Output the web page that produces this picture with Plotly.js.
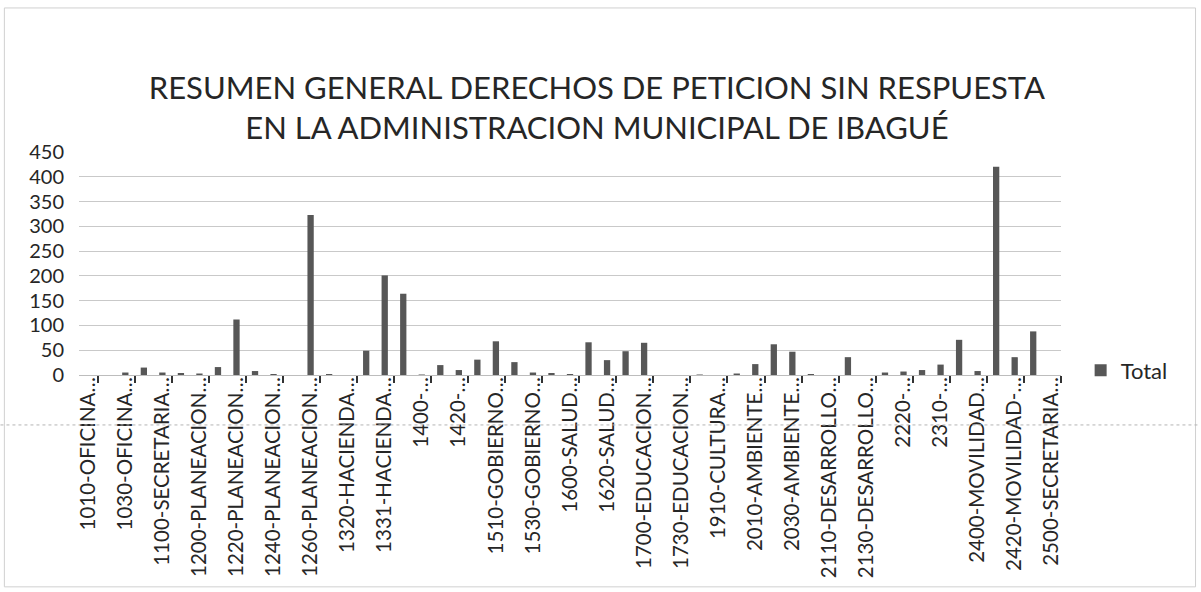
<!DOCTYPE html>
<html>
<head>
<meta charset="utf-8">
<script src="https://cdn.plot.ly/plotly-3.0.1.min.js"></script>
<style>html,body{margin:0;padding:0;background:#fff;}#chart{width:1201px;height:592px;}</style>
</head>
<body>
<div id="chart"></div>
<script>
// Tick labels (shown on every other category, as in the reference)
const tickLabels = [
  "1010-OFICINA…", "1030-OFICINA…", "1100-SECRETARIA…", "1200-PLANEACION…",
  "1220-PLANEACION…", "1240-PLANEACION…", "1260-PLANEACION…", "1320-HACIENDA…",
  "1331-HACIENDA…", "1400-…", "1420-…", "1510-GOBIERNO…", "1530-GOBIERNO…",
  "1600-SALUD…", "1620-SALUD…", "1700-EDUCACION…", "1730-EDUCACION…",
  "1910-CULTURA…", "2010-AMBIENTE…", "2030-AMBIENTE…", "2110-DESARROLLO…",
  "2130-DESARROLLO…", "2220-…", "2310-…", "2400-MOVILIDAD…", "2420-MOVILIDAD-…",
  "2500-SECRETARIA…"
];
// Series "Total", one value per category (53 categories)
const totals = [
  0, 0, 5, 15, 5, 4, 3, 16, 112, 8,
  2, 0, 323, 2, 0, 49, 201, 164, 1, 20,
  10, 31, 68, 26, 5, 4, 2, 66, 30, 48,
  65, 0, 0, 1, 0, 3, 22, 62, 47, 2,
  0, 36, 0, 5, 7, 10, 21, 71, 8, 420,
  36, 88, 0
];
const seriesName = "Total";
const titleText = "RESUMEN GENERAL DERECHOS DE PETICION SIN RESPUESTA<br>EN LA ADMINISTRACION MUNICIPAL DE IBAGUÉ";

const xIdx = totals.map((_, i) => i);
const tickVals = tickLabels.map((_, j) => 2 * j);

const FONT = "Lato, 'Open Sans', sans-serif";

const trace = {
  type: "bar",
  x: xIdx,
  y: totals,
  name: seriesName,
  showlegend: true,
  marker: { color: "#575757", line: { width: 0 } },
  hoverinfo: "y"
};

const layout = {
  width: 1201,
  height: 592,
  paper_bgcolor: "#ffffff",
  plot_bgcolor: "#ffffff",
  margin: { l: 79, r: 140, t: 152, b: 217, pad: 0 },
  bargap: 0.66,
  font: { family: FONT, color: "#262626" },
  title: {
    text: titleText,
    font: { family: FONT, size: 31, color: "#262626" },
    x: 0.497, xanchor: "center",
    y: 0.833, yanchor: "middle",
    yref: "container"
  },
  xaxis: {
    type: "linear",
    range: [-0.5, 52.5],
    tickmode: "array",
    tickvals: tickVals,
    ticktext: tickLabels,
    tickangle: -90,
    tickfont: { family: FONT, size: 20.5, color: "#262626" },
    ticks: "",
    ticklabelstandoff: -7,
    showgrid: false,
    zeroline: false,
    showline: true,
    linecolor: "#bdbdbd",
    linewidth: 1,
    minor: { tick0: 0.5, dtick: 2, ticks: "outside", ticklen: 7, tickwidth: 2, tickcolor: "#333333", showgrid: false },
    fixedrange: true
  },
  yaxis: {
    range: [0, 450],
    tickmode: "linear",
    tick0: 0,
    dtick: 50,
    tickfont: { family: FONT, size: 20, color: "#262626" },
    showgrid: true,
    gridcolor: "#c9c9c9",
    gridwidth: 1,
    zeroline: false,
    showline: false,
    ticks: "",
    ticklabelstandoff: 14,
    fixedrange: true
  },
  legend: {
    x: 1.02, xanchor: "left",
    y: 0.02, yanchor: "middle",
    font: { family: FONT, size: 22, color: "#262626" },
    bgcolor: "rgba(0,0,0,0)",
    itemwidth: 30
  },
  shapes: [
    { type: "rect", xref: "paper", yref: "paper", x0: -0.076, x1: 1.137, y0: -0.95, y1: 1.646,
      line: { color: "#d0d0d0", width: 1 }, fillcolor: "rgba(0,0,0,0)" },
    { type: "line", xref: "paper", yref: "paper", x0: -0.08, x1: 1.14, y0: -0.224, y1: -0.224,
      line: { color: "#b5b5b5", width: 1, dash: "dot" } }
  ]
};

Plotly.newPlot("chart", [trace], layout, { displayModeBar: false, staticPlot: true });
</script>
</body>
</html>
